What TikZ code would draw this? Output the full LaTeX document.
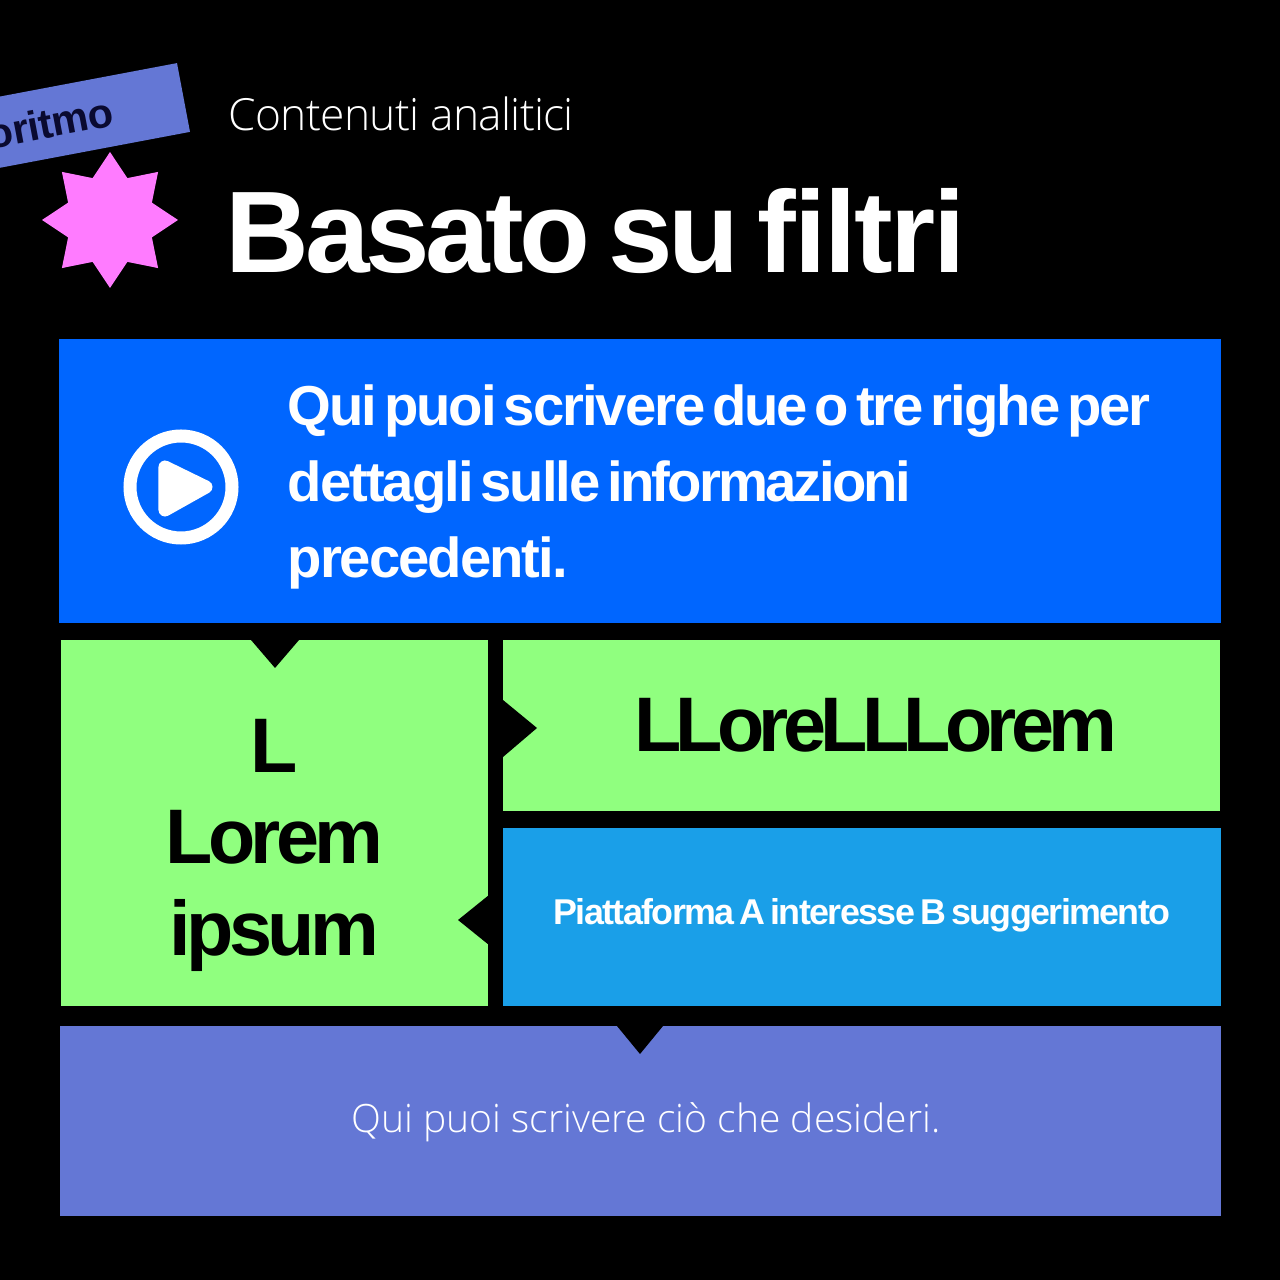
\documentclass[tikz,border=0pt]{standalone}
\usepackage{fontspec}
\usepackage{tikz}
\usetikzlibrary{shapes.geometric}
\setmainfont{Liberation Sans}
\newfontfamily\bodyface[LetterSpace=-3.6, WordSpace=0.5]{Liberation Sans Bold}
\newfontfamily\smallface[LetterSpace=-4.5, WordSpace=0.6]{Liberation Sans Bold}
\newfontfamily\bigface[LetterSpace=-7.4]{Liberation Sans Bold}
\newfontfamily\sideface[LetterSpace=-5.8]{Liberation Sans Bold}
\newfontfamily\titleface[LetterSpace=-3.8, WordSpace=0.65]{Liberation Sans Bold}
\newfontfamily\tagface[LetterSpace=-1]{Liberation Sans Bold}
\newfontfamily\subface[LetterSpace=-1.5]{Open Sans Light}
\newfontfamily\lightface{Open Sans Light}
\definecolor{blueBox}{HTML}{0066FF}
\definecolor{greenBox}{HTML}{90FF7F}
\definecolor{skyBox}{HTML}{1A9FE8}
\definecolor{violetBox}{HTML}{6477D5}
\definecolor{pinkStar}{HTML}{FF7BFF}
\definecolor{navyText}{HTML}{0A0A30}
\tikzstyle{panel} = [rectangle, inner sep=0pt, outer sep=0pt, text centered]
\tikzstyle{notch} = [fill=black]
\tikzstyle{icon} = [white, line width=3.7pt]

\begin{document}
\begin{tikzpicture}[x=0.01cm, y=-0.01cm]
\useasboundingbox (0,0) rectangle (1280,1280);
\clip (0,0) rectangle (1280,1280);
\fill[black] (0,0) rectangle (1280,1280);

\node(tagBox)[panel, fill=violetBox, rotate=10.7, anchor=east, minimum width=340*0.01cm, minimum height=70*0.01cm, text width=340*0.01cm, align=right, text=navyText, font=\tagface\fontsize{11.8}{14}\selectfont] at (183.5,97.5) {\raisebox{-1.4pt}{oritmo}\hspace*{20.5pt}};
\node(starBadge)[star, star points=8, star point ratio=1.5, fill=pinkStar, minimum size=136*0.01cm, inner sep=0pt] at (110,220) {};

\node(subtitle)[anchor=base west, inner sep=0pt, text=white, font=\subface\fontsize{12.6}{15}\selectfont] at (228,131) {Contenuti analitici};
\node(title)[anchor=base west, inner sep=0pt, text=white, font=\titleface\fontsize{33}{40}\selectfont] at (225,273) {Basato su {\addfontfeature{LetterSpace=-2}filtri}};

\node(introBox)[panel, fill=blueBox, minimum width=1162*0.01cm, minimum height=284*0.01cm] at (640,481) {};
\node(introText)[anchor=north west, inner sep=0pt, text=white, align=left, font=\bodyface\fontsize{16}{21.6}\selectfont] at (287,384) {Qui puoi scrivere due o tre righe per\\dettagli sulle {\addfontfeature{LetterSpace=-5}informazioni}\\precedenti.};
\node(playRing)[circle, draw=white, line width=3.7pt, minimum size=102*0.01cm, inner sep=0pt] at (181,487) {};
\filldraw[icon, line join=round] (165,467) -- (206,487) -- (165,510) -- cycle;

\node(leftBox)[panel, fill=greenBox, minimum width=427*0.01cm, minimum height=366*0.01cm] at (274.5,823) {};
\node(leftText)[inner sep=0pt, align=center, font=\sideface\fontsize{22}{26}\selectfont] at (274.5,845) {L\\Lorem\\ipsum};
\node(rightBox)[panel, fill=greenBox, minimum width=717*0.01cm, minimum height=171*0.01cm, font=\bigface\fontsize{22}{26}\selectfont] at (861.5,725.5) {\hspace{8pt}LLoreLLLorem};
\node(platformBox)[panel, fill=skyBox, minimum width=718*0.01cm, minimum height=178*0.01cm, text=white] at (862,917) {};
\node(platformText)[inner sep=0pt, text=white, font=\smallface\fontsize{10.2}{12}\selectfont] at (862,915) {Piattaforma A interesse B suggerimento};
\node(footerBox)[panel, fill=violetBox, minimum width=1161*0.01cm, minimum height=190*0.01cm] at (640.5,1121) {};
\node(footerText)[inner sep=0pt, text=white, font=\lightface\fontsize{11.1}{14}\selectfont] at (646,1122) {Qui puoi scrivere ciò che desideri.};

\fill[notch] (251,640) -- (299,640) -- (275,668) -- cycle;
\fill[notch] (503,700) -- (537,728) -- (503,757) -- cycle;
\fill[notch] (489,895) -- (458,920) -- (489,945) -- cycle;
\fill[notch] (617,1026) -- (663,1026) -- (640,1054) -- cycle;
\end{tikzpicture}
\end{document}
